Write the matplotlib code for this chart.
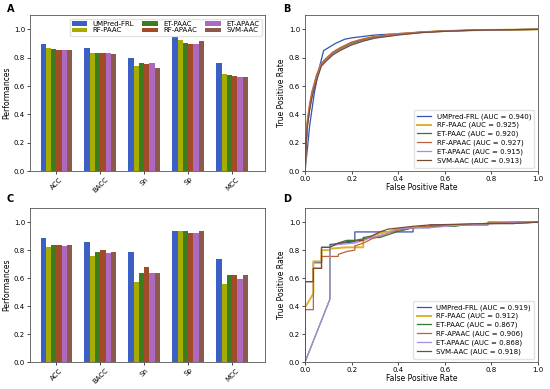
import matplotlib
matplotlib.use("Agg")
import matplotlib.pyplot as plt
import numpy as np

models = ["UMPred-FRL", "RF-PAAC", "ET-PAAC", "RF-APAAC", "ET-APAAC", "SVM-AAC"]
metrics = ["ACC", "BACC", "Sn", "Sp", "MCC"]

# panel A: training / cross-validation performances (rows = models)
perf_a = [
    [0.900, 0.870, 0.795, 0.945, 0.765],
    [0.865, 0.835, 0.745, 0.925, 0.685],
    [0.860, 0.835, 0.765, 0.905, 0.675],
    [0.855, 0.830, 0.755, 0.895, 0.670],
    [0.855, 0.830, 0.760, 0.895, 0.665],
    [0.857, 0.825, 0.730, 0.915, 0.665],
]
# panel C: independent test performances
perf_c = [
    [0.885, 0.860, 0.785, 0.935, 0.735],
    [0.820, 0.755, 0.570, 0.935, 0.560],
    [0.840, 0.790, 0.640, 0.935, 0.620],
    [0.840, 0.800, 0.680, 0.920, 0.620],
    [0.830, 0.780, 0.640, 0.920, 0.595],
    [0.840, 0.790, 0.640, 0.935, 0.620],
]

# panel B: ROC curves (cross-validation)
auc_b = [0.940, 0.925, 0.920, 0.927, 0.915, 0.913]
fpr_b = [
    [0, 0.01, 0.02, 0.04, 0.06, 0.08, 0.10, 0.13, 0.17, 0.20, 0.25, 0.30, 0.40, 0.50, 0.60, 0.70, 0.80, 0.90, 1.0],
    [0, 0.005, 0.01, 0.02, 0.03, 0.05, 0.07, 0.09, 0.10, 0.12, 0.15, 0.20, 0.25, 0.30, 0.40, 0.50, 0.60, 0.70, 0.80, 0.90, 1.0],
    [0, 0.005, 0.01, 0.02, 0.03, 0.05, 0.07, 0.09, 0.10, 0.12, 0.15, 0.20, 0.25, 0.30, 0.40, 0.50, 0.60, 0.70, 0.80, 0.90, 1.0],
    [0, 0.005, 0.01, 0.02, 0.03, 0.05, 0.07, 0.09, 0.10, 0.12, 0.15, 0.20, 0.25, 0.30, 0.40, 0.50, 0.60, 0.70, 0.80, 0.90, 1.0],
    [0, 0.005, 0.01, 0.02, 0.03, 0.05, 0.07, 0.09, 0.10, 0.12, 0.15, 0.20, 0.25, 0.30, 0.40, 0.50, 0.60, 0.70, 0.80, 0.90, 1.0],
    [0, 0.005, 0.01, 0.02, 0.03, 0.05, 0.07, 0.09, 0.10, 0.12, 0.15, 0.20, 0.25, 0.30, 0.40, 0.50, 0.60, 0.70, 0.80, 0.90, 1.0],
]
tpr_b = [
    [0, 0.15, 0.32, 0.55, 0.72, 0.85, 0.87, 0.90, 0.93, 0.94, 0.95, 0.96, 0.97, 0.98, 0.99, 0.993, 0.996, 0.998, 1.0],
    [0, 0.20, 0.34, 0.46, 0.55, 0.67, 0.755, 0.79, 0.805, 0.835, 0.865, 0.905, 0.93, 0.948, 0.967, 0.98, 0.988, 0.993, 0.996, 0.998, 1.0],
    [0, 0.19, 0.33, 0.45, 0.54, 0.66, 0.75, 0.785, 0.80, 0.83, 0.86, 0.90, 0.925, 0.945, 0.965, 0.979, 0.988, 0.993, 0.996, 0.998, 1.0],
    [0, 0.21, 0.35, 0.47, 0.56, 0.68, 0.76, 0.795, 0.81, 0.84, 0.87, 0.91, 0.933, 0.95, 0.968, 0.981, 0.989, 0.993, 0.996, 0.998, 1.0],
    [0, 0.18, 0.32, 0.44, 0.53, 0.65, 0.745, 0.78, 0.795, 0.825, 0.855, 0.895, 0.92, 0.94, 0.962, 0.978, 0.987, 0.992, 0.996, 0.998, 1.0],
    [0, 0.18, 0.31, 0.43, 0.52, 0.64, 0.74, 0.775, 0.79, 0.82, 0.85, 0.89, 0.917, 0.938, 0.96, 0.977, 0.986, 0.992, 0.996, 0.998, 1.0],
]

# panel D: ROC curves (independent test)
auc_d = [0.919, 0.912, 0.867, 0.906, 0.868, 0.918]
fpr_d = [
    [0, 0, 0.036, 0.036, 0.071, 0.071, 0.107, 0.107, 0.214, 0.214, 0.464, 0.464, 0.536, 0.536, 0.786, 0.786, 1.0],
    [0, 0, 0.036, 0.036, 0.071, 0.071, 0.107, 0.107, 0.179, 0.25, 0.25, 0.286, 0.321, 0.357, 0.393, 0.536, 0.679, 0.786, 0.857, 1.0],
    [0, 0.107, 0.107, 0.143, 0.179, 0.214, 0.25, 0.286, 0.321, 0.357, 0.393, 0.464, 0.536, 0.643, 0.679, 0.786, 0.893, 1.0],
    [0, 0, 0.036, 0.036, 0.071, 0.071, 0.143, 0.143, 0.179, 0.214, 0.214, 0.25, 0.286, 0.321, 0.357, 0.393, 0.464, 0.536, 0.607, 0.786, 0.893, 1.0],
    [0, 0.107, 0.107, 0.143, 0.214, 0.25, 0.286, 0.357, 0.393, 0.464, 0.536, 0.679, 0.821, 1.0],
    [0, 0, 0.036, 0.036, 0.071, 0.071, 0.107, 0.143, 0.179, 0.25, 0.25, 0.286, 0.321, 0.357, 0.464, 0.536, 0.786, 0.893, 1.0],
]
tpr_d = [
    [0, 0.575, 0.575, 0.71, 0.71, 0.82, 0.82, 0.84, 0.86, 0.93, 0.93, 0.96, 0.96, 0.98, 0.98, 1.0, 1.0],
    [0, 0.39, 0.49, 0.72, 0.72, 0.80, 0.80, 0.81, 0.82, 0.82, 0.87, 0.90, 0.92, 0.93, 0.95, 0.97, 0.98, 0.99, 1.0, 1.0],
    [0, 0.45, 0.83, 0.85, 0.87, 0.87, 0.88, 0.89, 0.89, 0.91, 0.93, 0.96, 0.97, 0.97, 0.98, 0.99, 0.99, 1.0],
    [0, 0.375, 0.375, 0.67, 0.67, 0.755, 0.755, 0.77, 0.79, 0.80, 0.83, 0.85, 0.88, 0.90, 0.92, 0.94, 0.96, 0.97, 0.98, 0.99, 1.0, 1.0],
    [0, 0.45, 0.83, 0.84, 0.85, 0.87, 0.89, 0.92, 0.95, 0.96, 0.96, 0.98, 0.99, 1.0],
    [0, 0.575, 0.575, 0.67, 0.67, 0.82, 0.82, 0.85, 0.86, 0.87, 0.89, 0.90, 0.93, 0.95, 0.97, 0.98, 0.99, 0.99, 1.0],
]

bar_colors = ["#3b5fc2", "#a6ac00", "#3e7d1e", "#a34a28", "#ad68c0", "#8b5a4b"]
line_colors = ["#3552b0", "#e0b030", "#2e7d2a", "#c0603a", "#a890e0", "#7a4a32"]

plt.rcParams["font.size"] = 5
plt.rcParams["axes.linewidth"] = 0.6
plt.rcParams["axes.edgecolor"] = "#555555"
plt.rcParams["xtick.major.width"] = 0.5
plt.rcParams["ytick.major.width"] = 0.5
plt.rcParams["xtick.major.size"] = 2
plt.rcParams["ytick.major.size"] = 2

fig = plt.figure(figsize=(5.5, 3.89), dpi=100)
ax_a = fig.add_axes([0.0545, 0.560, 0.4273, 0.401])
ax_b = fig.add_axes([0.5545, 0.560, 0.4236, 0.401])
ax_c = fig.add_axes([0.0545, 0.069, 0.4273, 0.396])
ax_d = fig.add_axes([0.5545, 0.069, 0.4236, 0.396])

x = np.arange(len(metrics))
w = 0.12


def bar_panel(ax, perf, legend):
    for i, m in enumerate(models):
        ax.bar(x + (i - 2.5) * w, perf[i], w, color=bar_colors[i], label=m)
    ax.set_xticks(x)
    ax.set_xticklabels(metrics, rotation=45)
    ax.set_xlim(-0.6, 4.75)
    ax.set_ylim(0, 1.1)
    ax.set_yticks([0, 0.2, 0.4, 0.6, 0.8, 1.0])
    ax.set_ylabel("Performances", fontsize=5.5, labelpad=2)
    ax.tick_params(labelsize=5, pad=1.5)
    if legend:
        ax.legend(ncol=3, loc="upper right", fontsize=5, frameon=True,
                  handlelength=2.2, columnspacing=1.2, labelspacing=0.1,
                  borderpad=0.3, edgecolor="#dddddd")


def roc_panel(ax, fprs, tprs, aucs):
    for i, m in enumerate(models):
        lw = 1.4 if i == 1 else 0.9
        ax.plot(fprs[i], tprs[i], color=line_colors[i], lw=lw,
                label=f"{m} (AUC = {aucs[i]:.3f})")
    ax.set_xlim(0, 1)
    ax.set_ylim(0, 1.1)
    ax.set_yticks([0, 0.2, 0.4, 0.6, 0.8, 1.0])
    ax.set_xlabel("False Positive Rate", fontsize=5.5, labelpad=1)
    ax.set_ylabel("True Positive Rate", fontsize=5.5, labelpad=2)
    ax.tick_params(labelsize=5, pad=1.5)
    ax.legend(loc="lower right", fontsize=5, labelspacing=0.35,
              handlelength=2.0, borderpad=0.5, edgecolor="#dddddd")


bar_panel(ax_a, perf_a, True)
bar_panel(ax_c, perf_c, False)
roc_panel(ax_b, fpr_b, tpr_b, auc_b)
roc_panel(ax_d, fpr_d, tpr_d, auc_d)

for letter, (px, py) in zip("ABCD", [(0.012, 0.965), (0.515, 0.965), (0.012, 0.475), (0.515, 0.475)]):
    fig.text(px, py, letter, fontsize=7, fontweight="bold", va="bottom")

fig.savefig("out.png", dpi=100)
